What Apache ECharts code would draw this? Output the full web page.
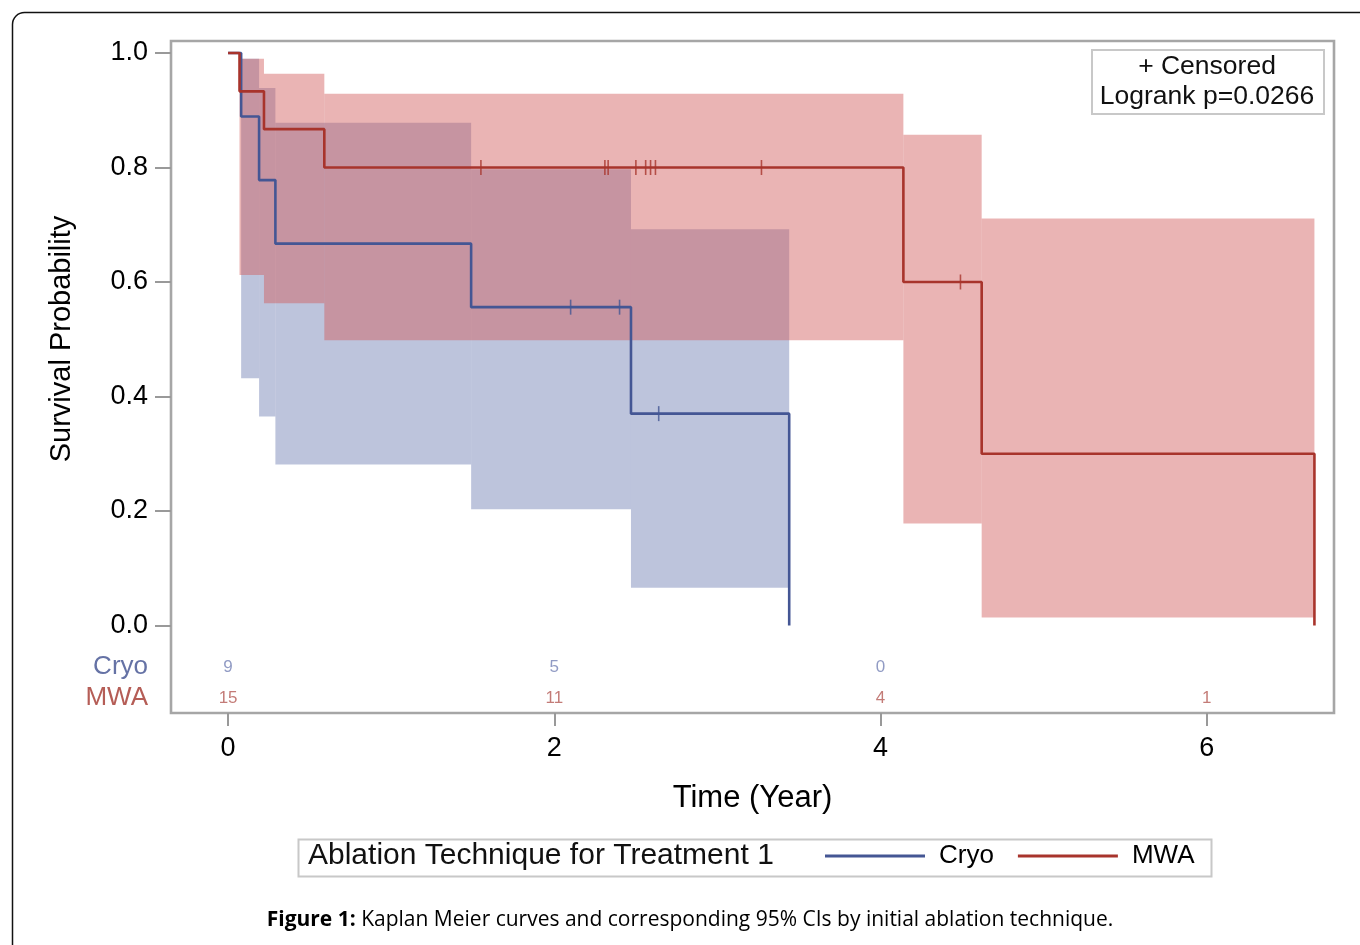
<!DOCTYPE html>
<html>
<head>
<meta charset="utf-8">
<script src="https://cdn.jsdelivr.net/npm/echarts@6/dist/echarts.min.js"></script>
<style>
html,body{margin:0;padding:0;background:#fff;}
#chart{width:1360px;height:945px;}
</style>
</head>
<body>
<div id="chart"></div>
<script>
// ---------------- data ----------------
const groups = ['Cryo', 'MWA'];

// Kaplan-Meier step points (time in years, survival probability)
const cryoTimes = [0, 0.08, 0.19, 0.29, 1.49, 2.47, 3.44];
const cryoSurv  = [1.0, 0.889, 0.778, 0.667, 0.556, 0.370, 0.0];
// 95% CI per segment [times[i], times[i+1]] (index 0 = no band)
const cryoLower = [null, 0.432, 0.365, 0.281, 0.203, 0.066];
const cryoUpper = [null, 0.990, 0.939, 0.878, 0.797, 0.692];
const cryoCensorTimes = [2.10, 2.40, 2.64];
const cryoCensorSurv  = [0.556, 0.556, 0.370];

const mwaTimes = [0, 0.07, 0.22, 0.59, 4.14, 4.62, 6.66];
const mwaSurv  = [1.0, 0.933, 0.867, 0.800, 0.600, 0.300, 0.0];
const mwaLower = [null, 0.612, 0.563, 0.498, 0.178, 0.014];
const mwaUpper = [null, 0.990, 0.964, 0.929, 0.857, 0.711];
const mwaCensorTimes = [1.55, 2.31, 2.33, 2.50, 2.56, 2.59, 2.62, 3.27, 4.49];
const mwaCensorSurv  = [0.8, 0.8, 0.8, 0.8, 0.8, 0.8, 0.8, 0.8, 0.6];

// number at risk
const atRiskTimes = [0, 2, 4, 6];
const cryoAtRisk = [9, 5, 0, null];
const mwaAtRisk  = [15, 11, 4, 1];

// axis ticks
const xTicks = [0, 2, 4, 6];
const yTicks = [0, 0.2, 0.4, 0.6, 0.8, 1.0];
const yTickLabels = ['0.0', '0.2', '0.4', '0.6', '0.8', '1.0'];

const xTitle = 'Time (Year)';
const yTitle = 'Survival Probability';
const legendTitle = 'Ablation Technique for Treatment 1';
const insetLines = ['+ Censored', 'Logrank p=0.0266'];
const captionBold = 'Figure 1:';
const captionText = ' Kaplan Meier curves and corresponding 95% CIs by initial ablation technique.';

// ---------------- styling ----------------
const FONT = 'Liberation Sans';
const blueLine = '#445694', redLine = '#A8342C';
const blueBand = 'rgba(111,126,179,0.46)', redBand = 'rgba(210,92,92,0.46)';
const blueNum = '#7582b5', redNum = '#b45a55';
const xMin = -0.35, xMax = 6.78, yMin = -0.153, yMax = 1.021;
const rowCryoY = -0.073, rowMwaY = -0.127;

function bandData(times, lo, hi) {
  const d = [];
  for (let i = 1; i < times.length - 1; i++) {
    if (lo[i] != null) d.push([times[i], times[i + 1], lo[i], hi[i]]);
  }
  return d;
}
function pairs(xs, ys) { return xs.map((x, i) => [x, ys[i]]); }
function riskData(counts, yRow) {
  const d = [];
  counts.forEach((c, i) => { if (c != null) d.push([atRiskTimes[i], yRow, c]); });
  return d;
}
function bandRender(color) {
  return function (params, api) {
    const p1 = api.coord([api.value(0), api.value(3)]);
    const p2 = api.coord([api.value(1), api.value(2)]);
    return {
      type: 'rect',
      shape: { x: p1[0], y: p1[1], width: p2[0] - p1[0], height: p2[1] - p1[1] },
      style: { fill: color }
    };
  };
}

const chart = echarts.init(document.getElementById('chart'), null, { renderer: 'canvas' });

const option = {
  animation: false,
  backgroundColor: '#fff',
  textStyle: { fontFamily: FONT },
  grid: {
    left: 171, top: 41, width: 1163, height: 672,
    show: true, borderColor: '#a6a6a6', borderWidth: 2.6, backgroundColor: 'transparent'
  },
  xAxis: {
    type: 'value', min: xMin, max: xMax,
    axisLine: { show: false, onZero: false },
    splitLine: { show: false },
    axisTick: { show: true, customValues: xTicks, length: 13, lineStyle: { color: '#999', width: 2 } },
    axisLabel: { customValues: xTicks, fontSize: 27, color: '#000', margin: 22, fontFamily: FONT },
    name: xTitle, nameLocation: 'middle', nameGap: 70,
    nameTextStyle: { fontSize: 31, color: '#000', fontFamily: FONT }
  },
  yAxis: {
    type: 'value', min: yMin, max: yMax,
    axisLine: { show: false, onZero: false },
    splitLine: { show: false },
    axisTick: { show: true, customValues: yTicks, length: 16, lineStyle: { color: '#999', width: 2 } },
    axisLabel: {
      customValues: yTicks, fontSize: 27, color: '#000', margin: 23, fontFamily: FONT,
      formatter: function (v) { const i = yTicks.findIndex(t => Math.abs(t - v) < 1e-6); return i >= 0 ? yTickLabels[i] : ''; }
    }
  },
  legend: {
    data: groups,
    left: 825, top: 843, padding: 0,
    icon: 'rect', itemWidth: 100, itemHeight: 3, itemGap: 24,
    textStyle: { fontSize: 26, color: '#000', fontFamily: FONT, padding: [0, 0, 0, 9] },
    selectedMode: false
  },
  series: [
    {
      name: 'Cryo band', type: 'custom', renderItem: bandRender(blueBand),
      data: bandData(cryoTimes, cryoLower, cryoUpper),
      encode: { x: [0, 1], y: [2, 3] }, z: 1, silent: true
    },
    {
      name: 'MWA band', type: 'custom', renderItem: bandRender(redBand),
      data: bandData(mwaTimes, mwaLower, mwaUpper),
      encode: { x: [0, 1], y: [2, 3] }, z: 2, silent: true
    },
    {
      name: 'Cryo', type: 'line', step: 'end', showSymbol: false, z: 5,
      data: pairs(cryoTimes, cryoSurv),
      lineStyle: { color: blueLine, width: 2.6 }, itemStyle: { color: blueLine }
    },
    {
      name: 'MWA', type: 'line', step: 'end', showSymbol: false, z: 5,
      data: pairs(mwaTimes, mwaSurv),
      lineStyle: { color: redLine, width: 2.6 }, itemStyle: { color: redLine }
    },
    {
      name: 'Cryo censored', type: 'scatter', symbol: 'rect', symbolSize: [1.6, 15], z: 6,
      data: pairs(cryoCensorTimes, cryoCensorSurv), itemStyle: { color: blueLine }, silent: true
    },
    {
      name: 'MWA censored', type: 'scatter', symbol: 'rect', symbolSize: [1.6, 15], z: 6,
      data: pairs(mwaCensorTimes, mwaCensorSurv), itemStyle: { color: redLine }, silent: true
    },
    {
      name: 'Cryo at risk', type: 'scatter', symbolSize: 0, silent: true,
      data: riskData(cryoAtRisk, rowCryoY),
      label: { show: true, position: 'inside', formatter: p => String(p.value[2]), fontSize: 17, color: blueNum, fontFamily: FONT }
    },
    {
      name: 'MWA at risk', type: 'scatter', symbolSize: 0, silent: true,
      data: riskData(mwaAtRisk, rowMwaY),
      label: { show: true, position: 'inside', formatter: p => String(p.value[2]), fontSize: 17, color: redNum, fontFamily: FONT }
    },
    {
      name: 'row labels', type: 'scatter', symbolSize: 0, silent: true, clip: false,
      data: [
        { value: [xMin, rowCryoY, groups[0]], label: { color: '#3f4f8f' } },
        { value: [xMin, rowMwaY, groups[1]], label: { color: '#a3352c' } }
      ],
      label: {
        show: true, position: 'left', distance: 23, fontSize: 26, fontFamily: FONT,
        formatter: p => p.value[2]
      },
      itemStyle: { color: 'transparent' }
    }
  ],
  graphic: [
    { type: 'rect', left: 10, top: 10, shape: { width: 1400, height: 1000, r: 12 }, style: { fill: 'none', stroke: '#111', lineWidth: 1.5 }, silent: true, z: -10 },
    { type: 'text', x: 62, y: 339, rotation: Math.PI / 2, style: { text: yTitle, font: '29px ' + FONT, fill: '#000', align: 'center', verticalAlign: 'middle' }, z: 11 },
    { type: 'rect', left: 1091, top: 49, shape: { width: 232, height: 64 }, style: { fill: '#fff', stroke: '#c8c8c8', lineWidth: 2 }, z: 10 },
    { type: 'text', x: 1207, y: 67, style: { text: insetLines[0], font: '26.5px ' + FONT, fill: '#111', align: 'center', verticalAlign: 'middle' }, z: 11 },
    { type: 'text', x: 1207, y: 97, style: { text: insetLines[1], font: '26.5px ' + FONT, fill: '#111', align: 'center', verticalAlign: 'middle' }, z: 11 },
    { type: 'rect', left: 296, top: 837, shape: { width: 913, height: 37 }, style: { fill: 'none', stroke: '#c8c8c8', lineWidth: 2 }, z: 10 },
    { type: 'text', x: 308, y: 856, style: { text: legendTitle, font: '30px ' + FONT, fill: '#111', align: 'left', verticalAlign: 'middle' }, z: 11 },
    {
      type: 'text', x: 690, y: 920,
      style: {
        text: '{b|' + captionBold + '}{n|' + captionText + '}',
        align: 'center', verticalAlign: 'middle',
        rich: {
          b: { fontFamily: 'Open Sans', fontSize: 21, fontWeight: 'bold', fill: '#000' },
          n: { fontFamily: 'Open Sans', fontSize: 21, fill: '#000' }
        }
      }, z: 11
    }
  ]
};
chart.setOption(option);
</script>
</body>
</html>
